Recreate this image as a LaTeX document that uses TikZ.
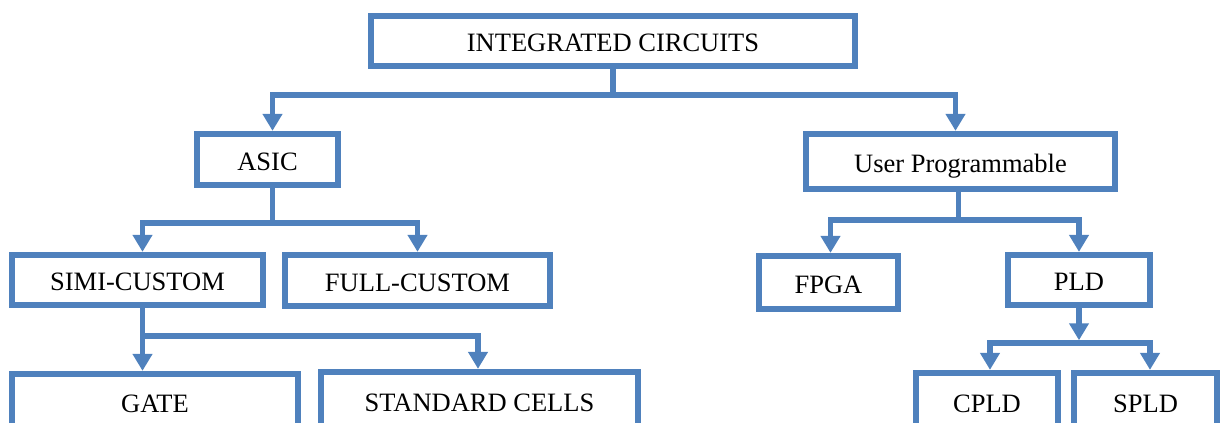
\documentclass[tikz,border=0pt]{standalone}
\usepackage{fontspec}
\setmainfont{Liberation Serif}
\usetikzlibrary{arrows.meta}
\definecolor{boxblue}{RGB}{79,129,189}
\tikzset{
  icbox/.style={draw=boxblue, line width=6.3pt, inner sep=0pt, text height=21.5pt, text depth=0pt,
    font=\fontsize{26.5}{30}\selectfont},
  bus/.style={draw=boxblue, line width=5.5pt, line join=miter},
  busarrow/.style={bus, -{Triangle[width=19pt,length=17pt]}}
}

\begin{document}
\begin{tikzpicture}[x=1pt,y=-1pt]
  %%%%% START %%%%%
  \useasboundingbox (0,0) rectangle (1221,423);
  \clip (0,0) rectangle (1221,423);

  \node[icbox, minimum width=484pt, minimum height=50pt] (ic) at (613,41) {INTEGRATED CIRCUITS};

  \node[icbox, minimum width=141pt, minimum height=51pt] (asic) at (267.5,159.5) {ASIC};
  \node[icbox, minimum width=309pt, minimum height=55pt] (userprog) at (960.5,161.5) {User Programmable};

  \node[icbox, minimum width=251pt, minimum height=50pt] (simi) at (137.5,280) {SIMI-CUSTOM};
  \node[icbox, minimum width=265pt, minimum height=51pt] (full) at (417.5,280.5) {FULL-CUSTOM};
  \node[icbox, minimum width=139pt, minimum height=53pt] (fpga) at (828.5,282.5) {FPGA};
  \node[icbox, minimum width=142pt, minimum height=50pt] (pld) at (1079,280) {PLD};

  \node[icbox, minimum width=286pt, minimum height=56pt] (gate) at (155,402) {GATE};
  \node[icbox, minimum width=317pt, minimum height=58pt] (stdcells) at (479.5,401) {STANDARD CELLS};
  \node[icbox, minimum width=142pt, minimum height=57pt] (cpld) at (987,401.5) {CPLD};
  \node[icbox, minimum width=143pt, minimum height=57pt] (spld) at (1145.5,401.5) {SPLD};

  \coordinate (bus1) at (0,95);
  \coordinate (bus2) at (0,223);
  \coordinate (bus3) at (0,220);
  \coordinate (bus4) at (0,336);
  \coordinate (bus5) at (0,343);

  % top level
  \draw[bus] (ic.south) -- (ic.south |- bus1) coordinate (j1);
  \draw[busarrow] (j1) -| ([xshift=5pt]asic.north);
  \draw[busarrow] (j1) -| ([xshift=-5pt]userprog.north);

  % ASIC branch
  \draw[bus] ([xshift=5pt]asic.south) -- ([xshift=5pt]asic.south |- bus2) coordinate (j2);
  \draw[busarrow] (j2) -| ([xshift=5pt]simi.north);
  \draw[busarrow] (j2) -| (full.north);

  % user programmable branch
  \draw[bus] ([xshift=-2pt]userprog.south) -- ([xshift=-2pt]userprog.south |- bus3) coordinate (j3);
  \draw[busarrow] (j3) -| ([xshift=2pt]fpga.north);
  \draw[busarrow] (j3) -| (pld.north);

  % SIMI-CUSTOM branch
  \draw[busarrow] ([xshift=5pt]simi.south) coordinate (j4) -- (j4 |- gate.north);
  \draw[busarrow] (j4 |- bus4) -| ([xshift=-1.5pt]stdcells.north);

  % PLD branch
  \draw[busarrow, shorten >=2.75pt] (pld.south) -- (pld.south |- bus5) coordinate (j5);
  \draw[busarrow] (j5) -| ([xshift=3pt]cpld.north);
  \draw[busarrow] (j5) -| ([xshift=4.5pt]spld.north);
  %%%%% END %%%%%
\end{tikzpicture}
\end{document}
